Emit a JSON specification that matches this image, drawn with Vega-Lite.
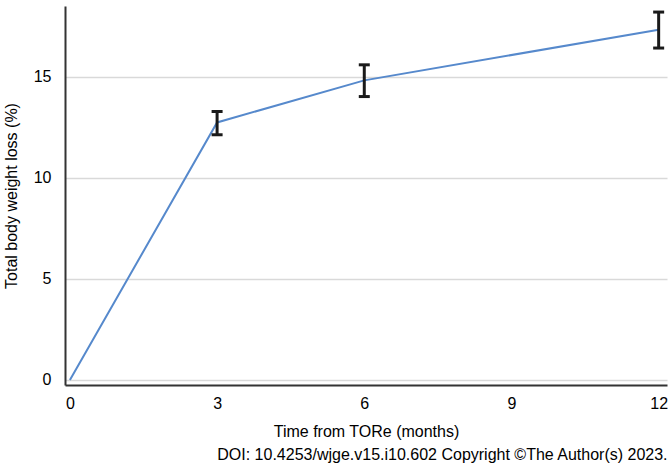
{
  "$schema": "https://vega.github.io/schema/vega-lite/v6.json",
  "width": 602,
  "height": 379,
  "autosize": {"type": "none"},
  "padding": {"left": 65, "top": 6, "right": 5, "bottom": 80},
  "background": "white",
  "title": {
    "text": "DOI: 10.4253/wjge.v15.i10.602 Copyright ©The Author(s) 2023.",
    "orient": "bottom",
    "anchor": "end",
    "font": "Liberation Sans",
    "fontSize": 16,
    "fontWeight": "normal",
    "color": "#000000",
    "offset": 8
  },
  "config": {
    "view": {"stroke": null},
    "axis": {
      "labelFont": "Liberation Sans",
      "titleFont": "Liberation Sans",
      "labelFontSize": 16,
      "titleFontSize": 16,
      "labelColor": "#000000",
      "titleColor": "#000000",
      "titleFontWeight": "normal",
      "domainColor": "#333333",
      "domainWidth": 2,
      "ticks": false
    }
  },
  "data": {
    "values": [
      {"month": 0, "twl": 0, "lo": null, "hi": null},
      {"month": 3, "twl": 12.74, "lo": 12.13, "hi": 13.28},
      {"month": 6, "twl": 14.82, "lo": 14.02, "hi": 15.59},
      {"month": 12, "twl": 17.33, "lo": 16.42, "hi": 18.2}
    ]
  },
  "layer": [
    {
      "mark": {"type": "line", "color": "#5689cc", "strokeWidth": 2},
      "encoding": {
        "x": {
          "field": "month",
          "type": "quantitative",
          "scale": {"domain": [-0.1, 12.17], "nice": false, "zero": false},
          "axis": {
            "values": [0, 3, 6, 9, 12],
            "grid": false,
            "title": "Time from TORe (months)",
            "labelPadding": 10,
            "titlePadding": 12
          }
        },
        "y": {
          "field": "twl",
          "type": "quantitative",
          "scale": {"domain": [-0.25, 18.5], "nice": false, "zero": false},
          "axis": {
            "values": [0, 5, 10, 15],
            "grid": true,
            "gridColor": "#d9d9d9",
            "gridWidth": 1.5,
            "title": "Total body weight loss (%)",
            "labelPadding": 14,
            "titlePadding": 14
          }
        }
      }
    },
    {
      "transform": [{"filter": "datum.lo != null"}],
      "mark": {"type": "rule", "color": "#1a1a1a", "strokeWidth": 3},
      "encoding": {
        "x": {"field": "month", "type": "quantitative"},
        "y": {"field": "lo", "type": "quantitative"},
        "y2": {"field": "hi"}
      }
    },
    {
      "transform": [{"filter": "datum.lo != null"}],
      "mark": {"type": "tick", "color": "#1a1a1a", "orient": "horizontal", "size": 11, "thickness": 3, "opacity": 1},
      "encoding": {
        "x": {"field": "month", "type": "quantitative"},
        "y": {"field": "lo", "type": "quantitative"}
      }
    },
    {
      "transform": [{"filter": "datum.lo != null"}],
      "mark": {"type": "tick", "color": "#1a1a1a", "orient": "horizontal", "size": 11, "thickness": 3, "opacity": 1},
      "encoding": {
        "x": {"field": "month", "type": "quantitative"},
        "y": {"field": "hi", "type": "quantitative"}
      }
    }
  ]
}
